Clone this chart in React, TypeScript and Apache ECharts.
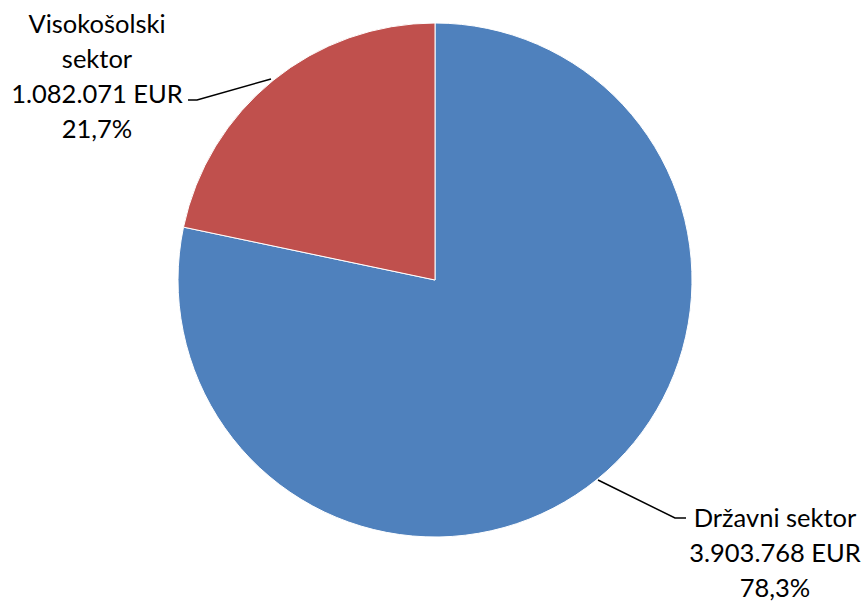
import React, { useEffect, useRef } from "react";
import * as echarts from "echarts";

const categories = ["Državni sektor", "Visokošolski\nsektor"];
const values = [3903768, 1082071];
const colors = ["#4F81BD", "#C0504D"];

const fmtEUR = (v: number) =>
  String(v).replace(/\B(?=(\d{3})+(?!\d))/g, ".") + " EUR";

export default function App() {
  const ref = useRef<HTMLDivElement>(null);
  useEffect(() => {
    const chart = echarts.init(ref.current!, null, { renderer: "svg" });
    const total = values.reduce((a, b) => a + b, 0);
    chart.setOption({
      animation: false,
      backgroundColor: "#ffffff",
      series: [
        {
          type: "pie",
          center: [435, 280],
          radius: 257,
          startAngle: 90,
          clockwise: true,
          data: categories.map((name, i) => ({
            name,
            value: values[i],
            itemStyle: { color: colors[i] },
          })),
          itemStyle: { borderColor: "#ffffff", borderWidth: 1 },
          label: {
            show: true,
            color: "#000",
            fontFamily: "Lato, Carlito, Calibri, sans-serif",
            fontSize: 25.5,
            lineHeight: 35,
            align: "center",
            formatter: (p: any) =>
              `${p.name}\n${fmtEUR(p.value)}\n${((p.value / total) * 100)
                .toFixed(1)
                .replace(".", ",")}%`,
          },
          labelLine: {
            show: true,
            lineStyle: { color: "#000", width: 1.5 },
          },
          labelLayout: (p: any) => {
            if (p.dataIndex === 0) {
              return {
                x: 775,
                y: 552,
                align: "center",
                verticalAlign: "middle",
                labelLinePoints: [
                  [598, 480],
                  [675, 518],
                  [686, 518],
                ],
              };
            }
            return {
              x: 97,
              y: 75,
              align: "center",
              verticalAlign: "middle",
              labelLinePoints: [
                [271, 79],
                [197, 100],
                [188, 100],
              ],
            };
          },
        },
      ],
    });
    return () => chart.dispose();
  }, []);
  return (
    <div
      ref={ref}
      style={{ position: "fixed", left: 0, top: 0, width: 866, height: 602 }}
    />
  );
}
